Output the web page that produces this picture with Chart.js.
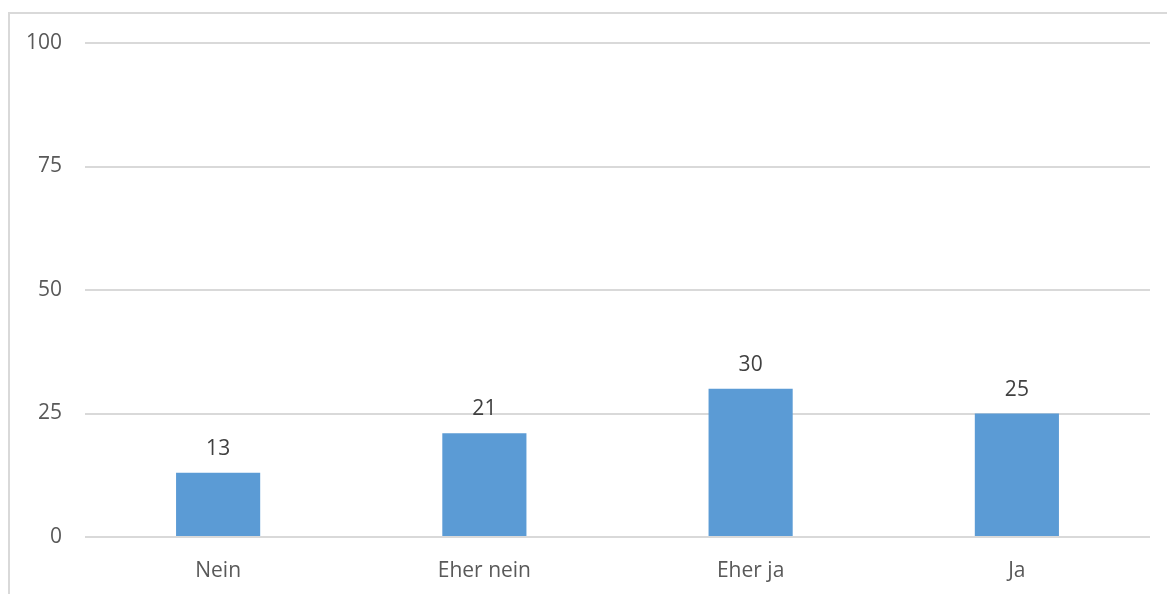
<!DOCTYPE html>
<html>
<head>
<meta charset="utf-8">
<script src="https://cdn.jsdelivr.net/npm/chart.js@4/dist/chart.umd.min.js"></script>
<style>
  html, body { margin: 0; padding: 0; background: #fff; overflow: hidden; }
  #wrap { width: 1167px; height: 594px; position: relative; }
</style>
</head>
<body>
<div id="wrap"><canvas id="myChart" width="1167" height="594"></canvas></div>
<script>
let categories = ['Nein', 'Eher nein', 'Eher ja', 'Ja'];
let values = [13, 21, 30, 25];
let yTicks = [0, 25, 50, 75, 100];

let fontFamily = "'Open Sans', 'Noto Sans', sans-serif";

// light frame around the whole chart, cut off on the right and bottom
const framePlugin = {
  id: 'frame',
  beforeDraw(chart) {
    const ctx = chart.ctx;
    ctx.save();
    ctx.strokeStyle = '#d9d9d9';
    ctx.lineWidth = 2;
    ctx.strokeRect(9, 13, 1300, 700);
    ctx.restore();
  }
};

// value labels above every bar
const valueLabels = {
  id: 'valueLabels',
  afterDatasetsDraw(chart) {
    const ctx = chart.ctx;
    const meta = chart.getDatasetMeta(0);
    ctx.save();
    ctx.font = '21px ' + fontFamily;
    ctx.fillStyle = '#404040';
    ctx.textAlign = 'center';
    ctx.textBaseline = 'alphabetic';
    meta.data.forEach((bar, i) => {
      ctx.fillText(String(values[i]), bar.x, bar.y - 18);
    });
    ctx.restore();
  }
};

const data = {
  labels: categories,
  datasets: [{
    data: values,
    backgroundColor: '#5b9bd5',
    borderWidth: 0,
    barPercentage: 0.316,
    categoryPercentage: 1
  }]
};

const config = {
  type: 'bar',
  data,
  options: {
    responsive: false,
    animation: false,
    layout: { padding: { top: 43, right: 17, bottom: 0, left: 0 } },
    plugins: {
      legend: { display: false },
      tooltip: { enabled: false }
    },
    scales: {
      x: {
        grid: { display: false, drawTicks: false },
        border: { display: false },
        ticks: {
          padding: 21,
          color: '#595959',
          font: { family: fontFamily, size: 21 }
        },
        afterFit: s => { s.height = 57; }
      },
      y: {
        min: 0,
        max: 100,
        afterBuildTicks: s => { s.ticks = yTicks.map(v => ({ value: v })); },
        grid: { color: '#d9d9d9', lineWidth: 2, drawTicks: false },
        border: { display: false },
        ticks: {
          padding: 23,
          color: '#595959',
          font: { family: fontFamily, size: 21 }
        },
        afterFit: s => { s.width = 85; }
      }
    }
  },
  plugins: [framePlugin, valueLabels]
};

let myChart = new Chart(document.getElementById('myChart'), config);
</script>
</body>
</html>
